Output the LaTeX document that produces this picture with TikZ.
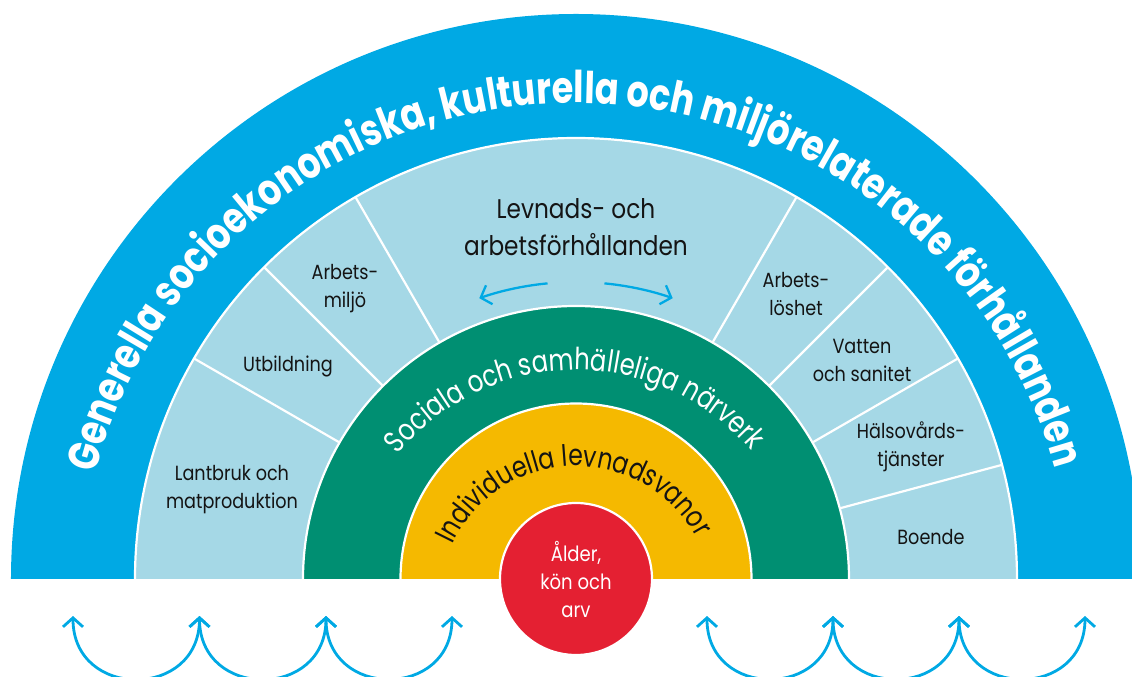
\documentclass[tikz,border=0pt]{standalone}
\usepackage{fontspec}
\setmainfont{Poppins}[FakeStretch=0.86]
\newfontfamily\mytitlefont{Poppins}[FakeStretch=0.8]
\newfontfamily\myinnerfont{Poppins}[FakeStretch=0.8]
\usetikzlibrary{decorations.text,arrows.meta}
\definecolor{rblue}{RGB}{0,169,228}
\definecolor{rlight}{RGB}{165,216,230}
\definecolor{rgreen}{RGB}{0,143,114}
\definecolor{ryellow}{RGB}{245,185,0}
\definecolor{rred}{RGB}{228,32,50}
\definecolor{rink}{RGB}{20,20,20}
\newlength\titlew
\newlength\socw
\newlength\indw
\newcommand\mytitletext{Generella socioekonomiska, kulturella och miljörelaterade förhållanden}
\newcommand\mysoctext{Sociala och samhälleliga närverk}
\newcommand\myindtext{Individuella levnadsvanor}
\begin{document}
\settowidth\titlew{\mytitlefont\bfseries\fontsize{40}{40}\selectfont\mytitletext}%
\settowidth\socw{\myinnerfont\fontsize{20}{20}\selectfont\mysoctext}%
\settowidth\indw{\myinnerfont\fontsize{20}{20}\selectfont\myindtext}%
\pgfmathsetmacro\titlesz{1301/\titlew*40}%
\pgfmathsetmacro\socsz{403/\socw*20}%
\pgfmathsetmacro\indsz{302/\indw*20}%
\begin{tikzpicture}[x=1pt,y=1pt,
  sep/.style={draw=white,line width=2.2pt},
  lbl/.style={text=rink,font=\fontsize{20.5}{28}\selectfont,align=center,inner sep=0pt},
  barc/.style={draw=rblue,line width=2.8pt,{Straight Barb[length=9pt,width=20pt]}-{Straight Barb[length=9pt,width=20pt]}},
  tarc/.style={draw=rblue,line width=2.3pt,-{Straight Barb[length=9pt,width=20pt]}}]
\useasboundingbox (-576,-98) rectangle (556,579);
% rings
\fill[rblue] (-565,0) arc[start angle=180,end angle=0,radius=565] -- cycle;
\fill[rlight] (-441,0) arc[start angle=180,end angle=0,radius=441] -- cycle;
\draw[sep] (-441,0) arc[start angle=180,end angle=0,radius=441];
\foreach \a in {15,30,45,60,120,135,150}
  \draw[sep] (\a:273) -- (\a:441);
\fill[rgreen] (-273,0) arc[start angle=180,end angle=0,radius=273] -- cycle;
\draw[sep] (-273,0) arc[start angle=180,end angle=0,radius=273];
\fill[ryellow] (-175.5,0) arc[start angle=180,end angle=0,radius=175.5] -- cycle;
\draw[sep] (-175.5,0) arc[start angle=180,end angle=0,radius=175.5];
\node[circle,fill=rred,draw=white,line width=2.2pt,minimum size=152pt,inner sep=0pt,
      text=white,font=\fontsize{21}{28}\selectfont,align=center] (core) at (0,0) {Ålder,\\kön och\\arv};
% curved texts
\path[decorate,decoration={text along path,text align=center,text color=white,
  text={|\mytitlefont\bfseries\fontsize{\titlesz}{\titlesz}\selectfont|Generella socioekonomiska, kulturella och miljörelaterade förhållanden}}]
  ([shift={(0,-21)}]175:497) arc[start angle=175,end angle=5.6,radius=497];
\path[decorate,decoration={text along path,text align=center,text color=white,
  text={|\myinnerfont\fontsize{\socsz}{\socsz}\selectfont|Sociala och samhälleliga närverk}}]
  ([shift={(0,-21)}]160.5:230) arc[start angle=160.5,end angle=20.5,radius=230];
\path[decorate,decoration={text along path,text align=center,text color=rink,
  text={|\myinnerfont\fontsize{\indsz}{\indsz}\selectfont|Individuella levnadsvanor}}]
  ([shift={(0,-24)}]171.5:137) arc[start angle=171.5,end angle=11.5,radius=137];
% sector labels
\node[lbl] (lant) at (-344,89) {Lantbruk och\\matproduktion};
\node[lbl] (utb) at (-288,213) {Utbildning};
\node[lbl] (amiljo) at (-231,290) {Arbets-\\miljö};
\node[lbl,font=\fontsize{27}{37}\selectfont] (levn) at (0,352) {Levnads- och\\arbetsförhållanden};
\node[lbl] (aloshet) at (220,285) {Arbets-\\löshet};
\node[lbl] (vatten) at (286,219) {Vatten\\och sanitet};
\node[lbl] (halso) at (335,132) {Hälsovårds-\\tjänster};
\node[lbl] (boende) at (355,42) {Boende};
% small top arrows
\coordinate (la) at (95.5:297);
\coordinate (ra) at (84.5:297);
\draw[tarc] (la) arc[start angle=95.5,end angle=109,radius=297];
\draw[tarc] (ra) arc[start angle=84.5,end angle=71,radius=297];
% bottom arrows
\coordinate (b1) at (-503,-37);
\coordinate (b2) at (-376.5,-37);
\coordinate (b3) at (-250,-37);
\coordinate (b4) at (-124,-37);
\coordinate (b5) at (131,-37);
\coordinate (b6) at (257,-37);
\coordinate (b7) at (383,-37);
\coordinate (b8) at (509,-37);
\draw[barc] (b1) to[out=-90,in=-90,looseness=1.7] (b2);
\draw[barc] (b2) to[out=-90,in=-90,looseness=1.7] (b3);
\draw[barc] (b3) to[out=-90,in=-90,looseness=1.7] (b4);
\draw[barc] (b5) to[out=-90,in=-90,looseness=1.7] (b6);
\draw[barc] (b6) to[out=-90,in=-90,looseness=1.7] (b7);
\draw[barc] (b7) to[out=-90,in=-90,looseness=1.7] (b8);
\end{tikzpicture}
\end{document}
